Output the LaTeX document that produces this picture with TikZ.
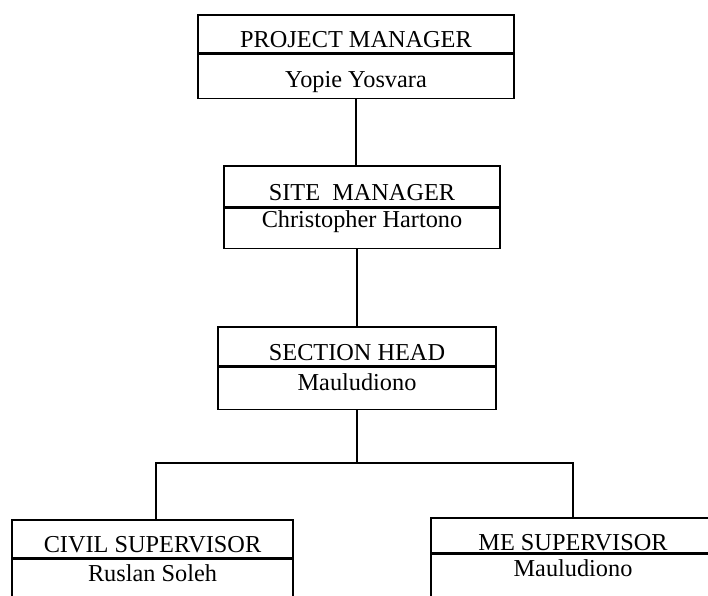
\documentclass[tikz,border=0pt]{standalone}
\usepackage{fontspec}
\setmainfont{Liberation Serif}
\usetikzlibrary{positioning}

\begin{document}
\begin{tikzpicture}[x=1pt,y=-1pt,line width=1.3pt,
  rolebox/.style={draw,rectangle,inner xsep=0pt,inner ysep=0pt,font=\fontsize{24.3}{26}\selectfont},
  namebox/.style={draw,rectangle,inner xsep=0pt,inner ysep=0pt,font=\fontsize{24.3}{26}\selectfont},
  ]
\useasboundingbox (0,0) rectangle (708,595);
\clip (0,0) rectangle (708,595);

\node[rolebox,minimum width=316pt,text height=32pt,text depth=6pt] (pm) at (356,34) {PROJECT MANAGER};
\node[namebox,minimum width=316pt,text height=33pt,text depth=11pt,below=0pt of pm] (pmname) {Yopie Yosvara};

\node[rolebox,minimum width=276pt,text height=34pt,text depth=7pt] (sm) at (362,186.5) {SITE\ \ MANAGER};
\node[namebox,minimum width=276pt,text height=19pt,text depth=21pt,below=0pt of sm] (smname) {Christopher Hartono};

\node[rolebox,minimum width=278pt,text height=33pt,text depth=6pt] (sec) at (357,346.5) {SECTION HEAD};
\node[namebox,minimum width=278pt,text height=23pt,text depth=19pt,below=0pt of sec] (secname) {Mauludiono};

\node[rolebox,minimum width=281pt,text height=32pt,text depth=6pt] (civil) at (152.5,539) {CIVIL SUPERVISOR};
\node[namebox,minimum width=281pt,text height=22pt,text depth=40pt,below=0pt of civil] (civilname) {Ruslan Soleh};

\node[rolebox,minimum width=284pt,text height=32pt,text depth=3pt] (me) at (573,535.5) {ME SUPERVISOR};
\node[namebox,minimum width=284pt,text height=22pt,text depth=40pt,below=0pt of me] (mename) {Mauludiono};

\coordinate (barL) at (156,463);
\coordinate (barR) at (573,463);

\draw (pmname.south) -- (pmname.south |- sm.north);
\draw (sec.north) -- (sec.north |- smname.south);
\draw (secname.south) -- (secname.south |- barL);
\draw (civil.north -| barL) -- (barL) -- (barR) -- (me.north);

\end{tikzpicture}
\end{document}
